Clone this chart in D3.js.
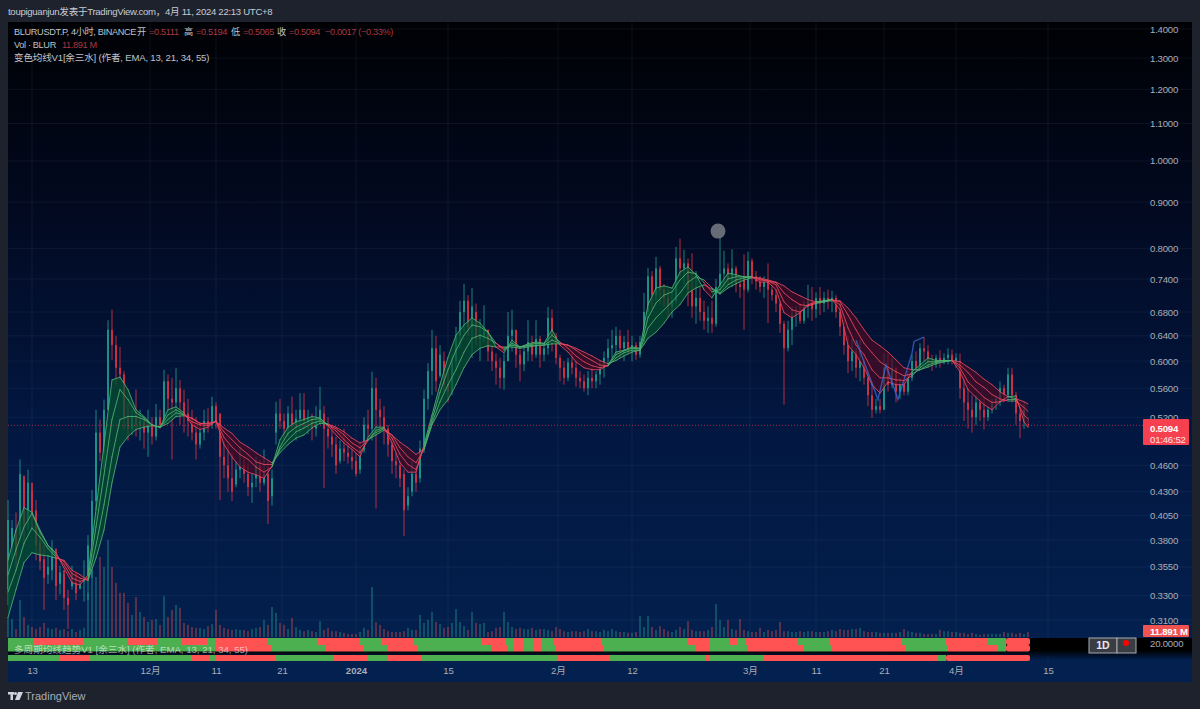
<!DOCTYPE html>
<html>
<head>
<meta charset="utf-8">
<script src="https://cdn.jsdelivr.net/npm/d3@7"></script>
<style>
  body { margin: 0; background: #1e222d; }
  svg { display: block; }
  text { font-family: "Liberation Sans", "Noto Sans CJK SC", sans-serif; }
</style>
</head>
<body>
<svg id="chart" width="1200" height="709"></svg>
<script>
// candles, one bar per half day or so
var barHigh = [.421,.400,.408,.467,.443,.455,.430,.421,.390,.375,
.366,.380,.366,.356,.348,.335,.356,.347,.345,.361,
.385,.432,.530,.517,.544,.666,.684,.640,.622,.585,
.540,.530,.558,.530,.517,.530,.520,.538,.530,.587,
.580,.575,.590,.572,.558,.545,.530,.520,.510,.530,
.532,.548,.540,.525,.490,.485,.475,.465,.480,.470,
.462,.450,.470,.467,.479,.465,.455,.541,.545,.525,
.535,.548,.530,.553,.553,.530,.525,.535,.562,.535,
.520,.510,.495,.490,.505,.490,.480,.475,.485,.520,
.530,.584,.575,.545,.535,.510,.495,.475,.465,.455,
.435,.465,.460,.490,.558,.597,.650,.640,.625,.615,
.590,.610,.655,.700,.731,.710,.723,.695,.668,.692,
.650,.625,.612,.605,.612,.680,.684,.650,.618,.625,
.666,.640,.666,.640,.625,.689,.685,.645,.610,.600,
.605,.615,.600,.585,.580,.585,.590,.585,.600,.615,
.635,.650,.655,.650,.640,.650,.640,.630,.640,.714,
.761,.755,.783,.765,.730,.720,.715,.803,.820,.797,
.780,.790,.755,.725,.700,.690,.700,.740,.824,.795,
.770,.798,.765,.745,.788,.793,.780,.755,.745,.745,
.770,.735,.720,.700,.665,.665,.690,.690,.695,.700,
.729,.725,.715,.725,.716,.720,.718,.710,.695,.666,
.640,.635,.620,.633,.605,.585,.570,.545,.545,.612,
.612,.605,.590,.575,.570,.585,.610,.615,.628,.638,
.625,.610,.610,.617,.612,.620,.618,.612,.612,.575,
.560,.550,.550,.545,.545,.535,.545,.550,.570,.565,
.590,.590,.555,.530,.540,.5194];

var barLow = [.322,.361,.352,.380,.375,.390,.390,.361,.352,.318,
.340,.343,.326,.331,.318,.303,.335,.326,.335,.325,
.326,.345,.411,.465,.455,.530,.602,.565,.572,.504,
.490,.497,.495,.490,.480,.470,.485,.490,.505,.510,
.530,.467,.520,.510,.500,.495,.490,.467,.480,.490,
.500,.505,.505,.421,.445,.430,.420,.435,.445,.440,
.425,.418,.435,.430,.437,.396,.415,.485,.505,.490,
.495,.505,.490,.500,.505,.498,.490,.495,.510,.434,
.480,.470,.450,.462,.465,.462,.455,.447,.450,.475,
.495,.490,.412,.500,.485,.470,.450,.445,.435,.384,
.410,.425,.430,.440,.475,.530,.550,.555,.575,.555,
.540,.550,.590,.620,.645,.640,.605,.625,.600,.630,
.600,.585,.565,.560,.558,.600,.615,.590,.570,.585,
.600,.600,.605,.590,.600,.610,.615,.595,.570,.565,
.570,.580,.562,.560,.555,.550,.560,.560,.565,.575,
.595,.605,.610,.605,.600,.610,.600,.602,.605,.625,
.670,.685,.700,.695,.690,.670,.670,.695,.745,.730,
.690,.670,.660,.665,.650,.645,.645,.655,.715,.725,
.730,.725,.715,.705,.650,.715,.730,.720,.715,.705,
.661,.700,.680,.645,.537,.615,.625,.655,.660,.660,
.670,.665,.670,.675,.680,.685,.680,.670,.640,.610,
.582,.585,.575,.570,.565,.535,.519,.525,.525,.530,
.555,.560,.540,.545,.550,.550,.570,.585,.590,.600,
.590,.585,.590,.590,.595,.595,.595,.590,.545,.515,
.505,.500,.510,.515,.504,.515,.525,.530,.535,.540,
.545,.540,.510,.493,.505,.5065];

var barOpen = [.335,.372,.390,.385,.448,.400,.440,.410,.378,.362,
.348,.352,.372,.340,.352,.328,.338,.350,.336,.342,
.345,.375,.420,.500,.475,.530,.650,.625,.590,.580,
.520,.505,.522,.510,.515,.500,.510,.495,.520,.515,
.570,.545,.540,.560,.540,.525,.515,.500,.485,.500,
.515,.510,.535,.525,.470,.460,.445,.438,.455,.460,
.450,.435,.445,.460,.440,.450,.425,.500,.525,.515,
.505,.525,.510,.518,.530,.515,.520,.505,.515,.525,
.505,.495,.485,.465,.480,.475,.470,.465,.455,.478,
.510,.505,.560,.530,.520,.505,.485,.465,.460,.450,
.415,.430,.450,.445,.480,.545,.585,.620,.578,.600,
.565,.555,.600,.640,.680,.700,.655,.680,.635,.640,
.650,.615,.600,.590,.575,.600,.640,.650,.610,.595,
.615,.630,.610,.635,.610,.620,.670,.640,.605,.590,
.575,.598,.590,.575,.570,.560,.575,.570,.580,.590,
.605,.620,.625,.640,.620,.630,.615,.625,.610,.630,
.680,.745,.710,.760,.720,.705,.690,.700,.780,.760,
.770,.720,.690,.705,.680,.665,.670,.660,.725,.750,
.760,.740,.760,.730,.745,.720,.775,.745,.735,.725,
.735,.720,.710,.695,.660,.620,.650,.675,.680,.665,
.690,.700,.685,.705,.695,.705,.700,.705,.680,.655,
.625,.600,.615,.590,.600,.575,.550,.530,.535,.530,
.590,.565,.590,.555,.565,.555,.575,.600,.590,.620,
.615,.600,.595,.605,.600,.605,.610,.600,.600,.560,
.540,.530,.520,.540,.530,.520,.530,.538,.540,.560,
.550,.580,.550,.525,.515,.5111];

var barClose = [.400,.392,.365,.450,.395,.440,.405,.375,.360,.345,
.355,.372,.338,.350,.328,.322,.350,.332,.342,.345,
.375,.420,.500,.475,.530,.650,.625,.590,.580,.520,
.505,.522,.510,.515,.500,.510,.495,.520,.510,.570,
.545,.540,.560,.540,.525,.515,.500,.485,.500,.515,
.510,.535,.515,.470,.460,.445,.430,.455,.460,.450,
.435,.440,.460,.440,.450,.420,.445,.525,.515,.505,
.525,.510,.518,.530,.515,.520,.505,.515,.530,.505,
.495,.485,.460,.480,.475,.470,.465,.450,.478,.510,
.505,.560,.530,.520,.505,.485,.465,.460,.445,.410,
.425,.450,.440,.480,.545,.585,.620,.570,.610,.565,
.555,.600,.640,.680,.700,.655,.690,.635,.640,.650,
.615,.600,.590,.575,.600,.640,.650,.610,.595,.615,
.630,.610,.635,.610,.620,.670,.640,.605,.590,.575,
.598,.590,.575,.570,.560,.575,.570,.580,.590,.605,
.620,.625,.640,.620,.630,.615,.625,.610,.630,.680,
.745,.710,.760,.720,.705,.690,.700,.780,.760,.770,
.720,.690,.705,.680,.665,.670,.660,.725,.750,.760,
.740,.760,.730,.725,.720,.775,.745,.735,.725,.735,
.720,.710,.695,.660,.620,.650,.675,.680,.665,.690,
.700,.685,.705,.695,.705,.700,.705,.680,.655,.625,
.600,.615,.590,.600,.575,.550,.530,.535,.530,.590,
.565,.590,.555,.565,.555,.575,.600,.590,.620,.615,
.600,.595,.605,.600,.605,.610,.600,.605,.560,.540,
.530,.520,.540,.530,.520,.530,.538,.545,.560,.550,
.580,.550,.525,.515,.530,.5094];

// volume in millions
var barVolume = [48,43,19,89,48,29,24,19,24,34,
22,19,22,17,19,14,19,12,17,22,
106,161,144,192,168,233,168,130,106,106,
82,53,96,60,48,36,41,43,29,98,
48,65,77,70,34,29,24,22,22,19,
26,31,65,29,22,19,17,19,17,17,
14,19,22,24,41,29,72,58,34,29,
19,46,24,17,14,17,14,12,38,17,
22,14,14,12,10,7,7,7,12,22,
17,120,36,29,19,14,12,12,12,14,
22,17,17,53,34,41,60,36,31,22,
24,34,67,36,26,17,60,34,31,34,
12,14,22,24,60,36,24,19,22,19,
19,22,17,19,19,17,14,24,19,14,
12,14,14,12,14,19,14,14,12,17,
14,19,14,12,12,10,10,12,50,24,
50,24,17,26,19,14,12,17,24,19,
38,17,14,14,14,17,24,79,41,24,
41,19,17,43,17,14,12,12,22,12,
17,14,17,36,14,14,12,12,14,12,
14,14,12,12,12,14,17,14,19,17,
17,19,19,22,14,12,12,12,10,10,
10,10,10,12,19,14,12,10,10,7,
7,7,7,17,14,14,12,12,10,10,
7,10,7,5,7,7,7,7,7,12,
10,10,7,10,7,11.891];

// moving averages, read every second bar, last one on the final bar
var ema13 = [.361,.390,.413,.408,.390,.375,.368,.354,.341,.339,.348,.411,.485,.572,.576,.558,
.530,.521,.510,.507,.530,.534,.526,.510,.504,.507,.515,.485,.470,.458,.452,.449,
.445,.459,.491,.507,.514,.517,.521,.519,.509,.497,.487,.479,.470,.494,.507,.507,
.487,.463,.452,.452,.485,.523,.565,.606,.641,.658,.670,.661,.646,.622,.613,.633,
.622,.627,.630,.628,.650,.625,.614,.599,.590,.587,.587,.594,.614,.617,.622,.620,
.693,.723,.727,.723,.753,.763,.748,.720,.705,.729,.751,.748,.744,.744,.734,.734,
.720,.679,.670,.679,.693,.698,.700,.702,.684,.625,.610,.590,.565,.553,.569,.565,
.565,.584,.594,.605,.601,.601,.601,.584,.558,.547,.537,.530,.541,.548,.549,.514,.507];

var ema21 = [.348,.371,.393,.407,.388,.375,.366,.357,.345,.342,.345,.393,.449,.517,.558,.544,
.526,.519,.510,.507,.523,.530,.524,.514,.510,.509,.515,.494,.482,.473,.467,.458,
.452,.458,.482,.499,.507,.512,.517,.518,.510,.502,.491,.482,.475,.490,.503,.506,
.493,.473,.461,.455,.481,.517,.554,.587,.617,.641,.658,.655,.646,.628,.617,.628,
.622,.625,.628,.627,.641,.630,.620,.608,.599,.593,.590,.593,.610,.616,.620,.619,
.670,.696,.710,.716,.738,.753,.750,.733,.716,.720,.740,.744,.744,.744,.738,.736,
.729,.698,.684,.680,.691,.696,.700,.702,.693,.653,.625,.610,.587,.575,.575,.572,
.571,.578,.590,.599,.599,.601,.601,.590,.569,.558,.547,.540,.541,.544,.544,.523,.518];

var ema34 = [.333,.352,.377,.392,.383,.372,.364,.360,.349,.345,.343,.375,.416,.470,.517,.521,
.521,.517,.510,.507,.517,.526,.523,.518,.512,.511,.515,.501,.491,.481,.473,.464,
.461,.461,.479,.491,.501,.506,.512,.515,.510,.505,.497,.487,.481,.491,.500,.505,
.497,.481,.470,.463,.479,.512,.541,.565,.587,.614,.636,.641,.636,.628,.620,.625,
.622,.624,.625,.625,.633,.628,.625,.617,.608,.601,.594,.593,.605,.613,.617,.617,
.653,.670,.684,.698,.714,.734,.744,.738,.723,.714,.729,.738,.742,.744,.740,.736,
.733,.714,.702,.693,.691,.695,.698,.702,.698,.675,.650,.628,.613,.599,.591,.584,
.578,.581,.587,.594,.598,.599,.601,.594,.583,.569,.561,.551,.545,.542,.542,.533,.528];

var ema55 = [.312,.335,.359,.368,.366,.365,.363,.361,.352,.348,.343,.363,.390,.440,.482,.495,
.504,.507,.509,.507,.512,.521,.522,.519,.512,.512,.514,.506,.499,.488,.482,.475,
.469,.463,.475,.485,.493,.497,.506,.512,.511,.507,.501,.493,.487,.491,.497,.503,
.497,.488,.481,.473,.479,.510,.530,.544,.565,.590,.610,.620,.624,.622,.622,.622,
.620,.622,.624,.625,.627,.627,.625,.620,.614,.608,.601,.596,.601,.608,.614,.617,
.636,.646,.661,.680,.693,.714,.723,.729,.721,.712,.723,.731,.738,.742,.742,.738,
.734,.727,.716,.709,.702,.698,.698,.700,.700,.687,.670,.650,.633,.624,.614,.602,
.590,.587,.587,.591,.596,.599,.601,.599,.591,.583,.573,.565,.555,.548,.545,.541,.538];

// price axis
var priceTicks = [1.4, 1.3, 1.2, 1.1, 1.0, 0.9, 0.8, 0.74, 0.68, 0.64, 0.6, 0.56, 0.52, 0.46, 0.43, 0.405, 0.38, 0.355, 0.33, 0.31];

// time axis, positions counted in bars
var timeTickBars = [6, 35.5, 52, 68.5, 87, 110, 137.5, 156, 185.5, 202, 219, 237, 260];
var timeTickLabels = ["13", "12月", "11", "21", "2024", "15", "2月", "12", "3月", "11", "21", "4月", "15"];

// hand drawn blue wave near the end
var waveBars = [212, 217.5, 219.5, 222.5, 226, 226.5, 229];
var wavePrices = [.633, .544, .594, .544, .612, .631, .638];

// bars where the trend rows flip, starting green
var trendRowA = [6.25,18.75,29.75,37.5,43.5,49.75,51.75,64.75,77.25,88,93.5,101.5,118.25,124.25,126.5,128.75,131.5,133.25,136.25,148.25,170,175.25,180.5,182.25,184.25,197.25,205.5,223.25,234.5,245,249.5,255.5];
var trendRowB = [51.75,65.75,79.25,88.75,94.75,102.25,121,124.75,126.5,128.75,131.5,133.25,136.75,149,171.75,175.5,185,198.75,206,224.5,234.75,247.25,249.5,255.5];
var trendRowC = [13,20.5,46,50.5,51.75,67,81.5,90,95,103.25,137.5,150.5,174.25,175.25,189,232.5,234.5,255.5];

var svg = d3.select("#chart");
var defs = svg.append("defs");

var bg = defs.append("linearGradient").attr("id", "paneBg").attr("x1", 0).attr("x2", 0).attr("y1", 0).attr("y2", 1);
bg.append("stop").attr("offset", "0%").attr("stop-color", "#000104");
bg.append("stop").attr("offset", "30%").attr("stop-color", "#020a22");
bg.append("stop").attr("offset", "60%").attr("stop-color", "#021740");
bg.append("stop").attr("offset", "100%").attr("stop-color", "#032150");

var fade = defs.append("linearGradient").attr("id", "rowFade").attr("x1", 0).attr("x2", 0).attr("y1", 0).attr("y2", 1);
fade.append("stop").attr("offset", "0%").attr("stop-color", "#000");
fade.append("stop").attr("offset", "55%").attr("stop-color", "#000");
fade.append("stop").attr("offset", "100%").attr("stop-color", "#000").attr("stop-opacity", 0);

svg.append("rect").attr("x", 8).attr("y", 22).attr("width", 1184).attr("height", 660).attr("fill", "url(#paneBg)");

// scales
var x = d3.scaleLinear().domain([0, 255]).range([8, 1028]);
var y = d3.scaleLog().domain([0.31, 1.4]).range([620, 29]);
var vol = d3.scaleLinear().domain([0, 240]).range([637, 537]);
var grid = "rgba(130,150,190,0.09)";
var squeeze = "-0.2px";
var tight = "-0.35px";

// grid
svg.append("g").selectAll("line").data(priceTicks).join("line")
  .attr("x1", 8).attr("x2", 1192)
  .attr("y1", d => y(d)).attr("y2", d => y(d))
  .attr("stroke", grid);
svg.append("g").selectAll("line").data(timeTickBars).join("line")
  .attr("x1", d => x(d)).attr("x2", d => x(d))
  .attr("y1", 22).attr("y2", 662)
  .attr("stroke", grid);

// price axis
var priceAxis = d3.axisRight(y).tickValues(priceTicks).tickSize(0).tickPadding(0).tickFormat(d3.format(".4f"));
var gPrice = svg.append("g").attr("transform", "translate(1150,0)").call(priceAxis);
gPrice.select(".domain").remove();
gPrice.selectAll("text").attr("fill", "#a9adb8").attr("font-size", 9.6).attr("font-family", "Liberation Sans").style("letter-spacing", squeeze);

// time axis
var timeAxis = d3.axisBottom(x).tickValues(timeTickBars).tickSize(0).tickPadding(0)
  .tickFormat((d, i) => timeTickLabels[i]);
var gTime = svg.append("g").attr("transform", "translate(0,667)").call(timeAxis);
gTime.select(".domain").remove();
gTime.selectAll("text").attr("fill", "#a9adb8").attr("font-size", 9.6).attr("font-family", "Liberation Sans, Noto Sans CJK SC");
gTime.selectAll(".tick").filter((d, i) => timeTickLabels[i] == "2024").select("text").attr("font-weight", "bold");

var bars = d3.range(barHigh.length);
var up = i => barClose[i] >= barOpen[i];

// volume
svg.append("g").selectAll("rect").data(bars).join("rect")
  .attr("x", i => x(i) - 0.8).attr("width", 1.6)
  .attr("y", i => vol(barVolume[i]))
  .attr("height", i => vol(0) - vol(barVolume[i]))
  .attr("fill", i => up(i) ? "#26a69a" : "#ef5350")
  .attr("opacity", 0.45);

// candles
var candles = svg.append("g");
candles.selectAll("line").data(bars).join("line")
  .attr("x1", i => x(i)).attr("x2", i => x(i))
  .attr("y1", i => y(barHigh[i])).attr("y2", i => y(barLow[i]))
  .attr("stroke", i => up(i) ? "#22ab94" : "#f23645")
  .attr("opacity", 0.75);
candles.selectAll("rect").data(bars).join("rect")
  .attr("x", i => x(i) - 1).attr("width", 2)
  .attr("y", i => y(Math.max(barOpen[i], barClose[i])))
  .attr("height", i => Math.max(1, Math.abs(y(barOpen[i]) - y(barClose[i]))))
  .attr("fill", i => up(i) ? "#22ab94" : "#f23645")
  .attr("opacity", 0.72);

// moving average ribbon, coloured by which side the fast line is on
var emaBars = d3.range(128).map(k => k * 2).concat([255]);
var emaLines = [ema13, ema21, ema34, ema55];
var ribbon = svg.append("g");
var area = d3.area().x(d => x(d.bar)).y0(d => y(d.fast)).y1(d => y(d.slow));
var segment = d3.line().x(d => x(d[0])).y(d => y(d[1]));

d3.range(emaBars.length - 1).forEach(function(k) {
  var rising = (ema13[k] + ema13[k + 1]) >= (ema55[k] + ema55[k + 1]);
  ribbon.append("path")
    .attr("d", area([
      {bar: emaBars[k], fast: ema13[k], slow: ema55[k]},
      {bar: emaBars[k + 1], fast: ema13[k + 1], slow: ema55[k + 1]}
    ]))
    .attr("fill", rising ? "#06512f" : "#4d0a24")
    .attr("opacity", rising ? 0.72 : 0.68);
});

emaLines.forEach(function(series) {
  d3.range(emaBars.length - 1).forEach(function(k) {
    var rising = (ema13[k] + ema13[k + 1]) >= (ema55[k] + ema55[k + 1]);
    ribbon.append("path")
      .attr("d", segment([[emaBars[k], series[k]], [emaBars[k + 1], series[k + 1]]]))
      .attr("fill", "none")
      .attr("stroke", rising ? "#52b273" : "#e84a5f")
      .attr("stroke-width", 1)
      .attr("stroke-linecap", "round")
      .attr("opacity", 0.85);
  });
});

// blue wave
svg.append("path")
  .attr("d", d3.line().x(d => x(d[0])).y(d => y(d[1]))(d3.zip(waveBars, wavePrices)))
  .attr("fill", "none").attr("stroke", "#3f6fe0").attr("stroke-width", 1.4).attr("opacity", 0.7);

// gray marker over the top
svg.append("circle").attr("cx", x(177.5)).attr("cy", y(0.836)).attr("r", 7.5).attr("fill", "#72767f").attr("opacity", 0.9);

// last price line
svg.append("line").attr("x1", 8).attr("x2", 1143).attr("y1", y(0.5094)).attr("y2", y(0.5094))
  .attr("stroke", "#f23645").attr("stroke-dasharray", "1 2").attr("opacity", 0.7);

// indicator pane
svg.append("rect").attr("x", 8).attr("y", 638).attr("width", 1184).attr("height", 22).attr("fill", "url(#rowFade)");

function drawRow(flips, top, height) {
  var edges = [0 - 0.001].concat(flips);
  d3.range(edges.length - 1).forEach(function(k) {
    svg.append("rect")
      .attr("x", x(edges[k])).attr("width", x(edges[k + 1]) - x(edges[k]))
      .attr("y", top).attr("height", height)
      .attr("rx", k == edges.length - 2 ? 2 : 0)
      .attr("fill", k % 2 == 0 ? "#4caf50" : "#ff5252");
  });
}
drawRow(trendRowA, 638, 7);
drawRow(trendRowB, 645, 6.5);
drawRow(trendRowC, 655, 6);

svg.append("text").attr("x", 14).attr("y", 653).attr("font-size", 9.6).attr("fill", "rgba(255,255,255,0.6)")
  .text("多周期均线趋势V1 [余三水] (作者, EMA, 13, 21, 34, 55)");

svg.append("text").attr("x", 1150).attr("y", 647).attr("font-size", 9.6).attr("fill", "#a9adb8").style("letter-spacing", squeeze).text("20.0000");

// 1D button
svg.append("rect").attr("x", 1089).attr("y", 638).attr("width", 28).attr("height", 15).attr("fill", "#3a3c44").attr("stroke", "#a9abb2");
svg.append("rect").attr("x", 1117).attr("y", 638).attr("width", 19).attr("height", 15).attr("fill", "#3a3c44").attr("stroke", "#a9abb2");
svg.append("text").attr("x", 1103).attr("y", 649).attr("text-anchor", "middle").attr("font-size", 10.5).attr("font-weight", "bold").attr("fill", "#e8e9ec").text("1D");
svg.append("circle").attr("cx", 1126).attr("cy", 643).attr("r", 3).attr("fill", "#f00");

// price and volume flags
svg.append("rect").attr("x", 1143).attr("y", 419).attr("width", 46).attr("height", 26).attr("rx", 1).attr("fill", "#f7404f");
svg.append("text").attr("x", 1150).attr("y", 431.5).attr("font-size", 9.6).attr("font-weight", "bold").attr("fill", "#fff").style("letter-spacing", squeeze).text("0.5094");
svg.append("text").attr("x", 1150).attr("y", 442.5).attr("font-size", 9.6).attr("fill", "#fde3e5").style("letter-spacing", squeeze).text("01:46:52");
svg.append("rect").attr("x", 1143).attr("y", 625).attr("width", 46).attr("height", 12).attr("rx", 1).attr("fill", "#ef5350");
svg.append("text").attr("x", 1150).attr("y", 635).attr("font-size", 9.6).attr("font-weight", "bold").attr("fill", "#fff").style("letter-spacing", squeeze).text("11.891 M");

// legend, each group starts where the reference has it
var red = "#a8383f";
var ink = "#bfc2ca";
var legendParts = ["BLURUSDT.P, 4小时, BINANCE", "开", "=0.5111", "高", "=0.5194", "低", "=0.5065", "收", "=0.5094", "−0.0017 (−0.33%)"];
var legendStarts = [14, 137, 149, 184, 196, 231, 243, 277, 289, 325];
svg.append("g").selectAll("text").data(legendParts).join("text")
  .attr("x", (d, i) => legendStarts[i]).attr("y", 35)
  .attr("font-size", 9.2)
  .attr("fill", (d, i) => (i > 0 && (i % 2 == 0 || i == 9)) ? red : ink)
  .style("letter-spacing", tight)
  .text(d => d);

var legend2 = svg.append("text").attr("x", 14).attr("y", 48).attr("font-size", 9.2).attr("fill", ink).style("letter-spacing", tight);
legend2.append("tspan").text("Vol · BLUR");
legend2.append("tspan").attr("dx", 6).attr("fill", red).text("11.891 M");
svg.append("text").attr("x", 14).attr("y", 61).attr("font-size", 9.6).attr("fill", ink).style("letter-spacing", squeeze)
  .text("变色均线V1[余三水] (作者, EMA, 13, 21, 34, 55)");

// header and footer
svg.append("text").attr("x", 8).attr("y", 15).attr("font-size", 9.6).attr("fill", "#c8cbd3").style("letter-spacing", "-0.3px")
  .text("toupiguanjun发表于TradingView.com，4月 11, 2024 22:13 UTC+8");
svg.append("text").attr("x", 25).attr("y", 700).attr("font-size", 11).attr("fill", "#a9adb8").text("TradingView");
var logo = svg.append("g").attr("fill", "#d1d4dc");
logo.append("rect").attr("x", 8).attr("y", 692).attr("width", 6).attr("height", 2.5);
logo.append("rect").attr("x", 10.5).attr("y", 692).attr("width", 2.5).attr("height", 8);
logo.append("circle").attr("cx", 15.5).attr("cy", 693.5).attr("r", 1.5);
logo.append("path").attr("d", "M18 692 L23 692 L19.5 700 L15 700 Z");
</script>
</body>
</html>
